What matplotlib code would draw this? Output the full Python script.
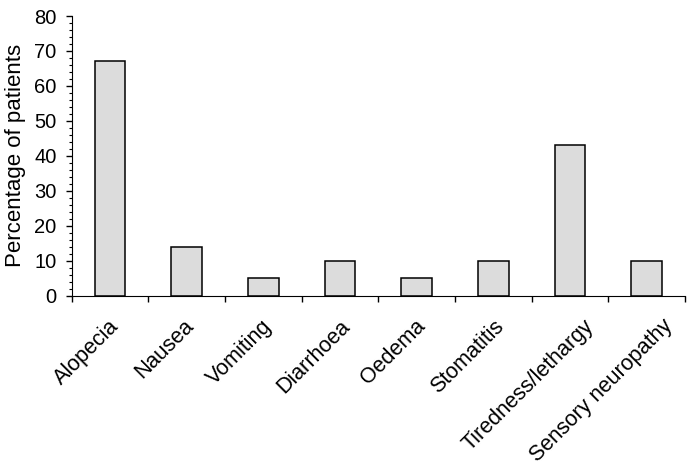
import numpy as np
import matplotlib.pyplot as plt
from matplotlib.ticker import MultipleLocator, FixedLocator
from matplotlib.transforms import ScaledTranslation

plt.rcParams['font.family'] = ['Liberation Sans', 'DejaVu Sans']

categories = ['Alopecia', 'Nausea', 'Vomiting', 'Diarrhoea', 'Oedema',
              'Stomatitis', 'Tiredness/lethargy', 'Sensory neuropathy']
percent = [67, 14, 5, 10, 5, 10, 43, 10]

fig = plt.figure(figsize=(6.97, 4.71), dpi=100)
ax = fig.add_axes([0.103, 0.372, 0.880, 0.594])

x = np.arange(len(categories))
ax.bar(x, percent, width=0.4, color='#dcdcdc', edgecolor='black', linewidth=1.1)

ax.set_xlim(-0.5, len(categories) - 0.5)
ax.set_ylim(0, 80)

# ticks between categories, labels drawn by hand at the centres
ax.xaxis.set_major_locator(FixedLocator(np.arange(-0.5, len(categories), 1.0)))
ax.set_xticklabels([])
ax.tick_params(axis='x', which='major', direction='out', length=4, width=1)

trans = ax.get_xaxis_transform()
labels = []
for xi, name in zip(x, categories):
    t = ax.text(xi, 0, name, transform=trans, rotation=45, ha='right', va='top',
                rotation_mode='anchor', fontsize=15.5)
    labels.append(t)

fig.canvas.draw()
r = fig.canvas.get_renderer()
for t in labels:
    bb = t.get_window_extent(r)
    h = 15.5 * fig.dpi / 72 * 1.1
    w = (bb.width + bb.height) / 2 / 0.7071 - h  # rough unrotated width
    dx = 0.16 * w - 15  # long labels sit further right in the original
    t.set_transform(trans + ScaledTranslation(dx / fig.dpi, -20 / fig.dpi,
                                              fig.dpi_scale_trans))

ax.yaxis.set_major_locator(MultipleLocator(10))
ax.yaxis.set_minor_locator(MultipleLocator(2))
ax.tick_params(axis='y', which='major', direction='out', length=4, width=1,
               labelsize=14.5, pad=7)
ax.tick_params(axis='y', which='minor', direction='out', length=2.5, width=0.8)

ax.set_ylabel('Percentage of patients', fontsize=16, labelpad=6)

ax.spines['top'].set_visible(False)
ax.spines['right'].set_visible(False)

fig.savefig('out.png', dpi=100)
